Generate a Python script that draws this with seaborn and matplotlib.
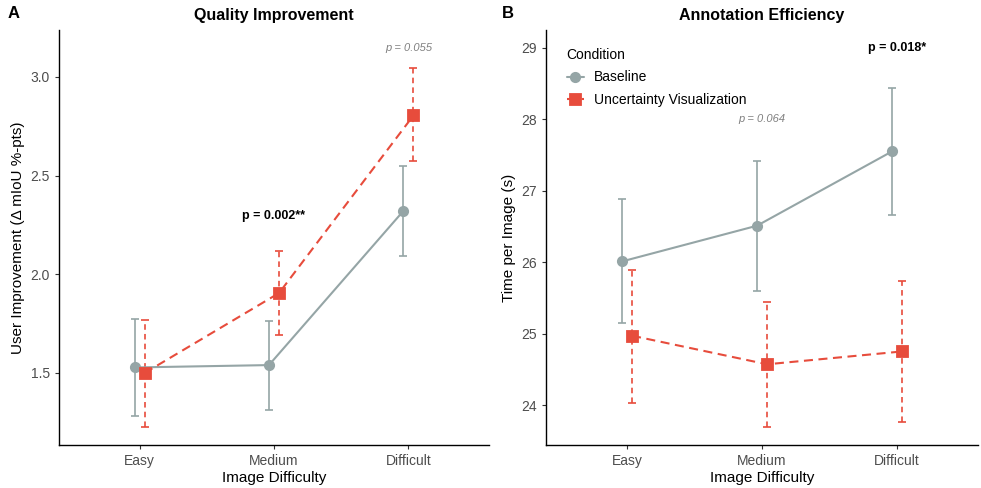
import numpy as np
import pandas as pd
import matplotlib
matplotlib.use("Agg")
import matplotlib.pyplot as plt
import seaborn as sns

difficulty = ["Easy", "Medium", "Difficult"]
conditions = ["Baseline", "Uncertainty Visualization"]

# Panel A: quality improvement
qa_base = [1.528, 1.540, 2.321]
qa_base_lo = [1.280, 1.310, 2.095]
qa_base_hi = [1.775, 1.765, 2.550]
qa_unc = [1.500, 1.905, 2.805]
qa_unc_lo = [1.226, 1.690, 2.575]
qa_unc_hi = [1.770, 2.120, 3.045]

# Panel B: annotation efficiency
tb_base = [26.01, 26.51, 27.55]
tb_base_lo = [25.15, 25.59, 26.66]
tb_base_hi = [26.89, 27.41, 28.44]
tb_unc = [24.97, 24.57, 24.75]
tb_unc_lo = [24.03, 23.69, 23.76]
tb_unc_hi = [25.89, 25.44, 25.73]

GRAY = "#95A5A6"
RED = "#E74C3C"

sns.set_theme(style="ticks")
plt.rcParams["font.family"] = ["Liberation Sans", "DejaVu Sans"]
plt.rcParams["lines.scale_dashes"] = False
plt.rcParams["text.color"] = "black"
plt.rcParams["axes.labelcolor"] = "black"

fig = plt.figure(figsize=(9.81, 4.88), dpi=100)
axA = fig.add_axes([0.0601, 0.0881, 0.4384, 0.8504])
axB = fig.add_axes([0.5566, 0.0881, 0.4404, 0.8504])

DODGE = 0.0375


def make_df(base, unc):
    return pd.DataFrame({
        "Difficulty": difficulty * 2,
        "Condition": [conditions[0]] * 3 + [conditions[1]] * 3,
        "Value": list(base) + list(unc),
    })


def draw(ax, base, blo, bhi, unc, ulo, uhi):
    df = make_df(base, unc)
    x = np.arange(len(difficulty))
    for vals, lo, hi, col, off, ls in [
        (base, blo, bhi, GRAY, -DODGE, "-"),
        (unc, ulo, uhi, RED, DODGE, "--"),
    ]:
        vals = np.array(vals)
        yerr = [vals - np.array(lo), np.array(hi) - vals]
        eb = ax.errorbar(x + off, vals, yerr=yerr, fmt="none", ecolor=col,
                         elinewidth=1.2, capsize=1.9, capthick=1.2, zorder=2)
        for c in eb[2]:
            if ls == "--":
                c.set_linestyle((0, (4, 3)))
    sns.pointplot(data=df, x="Difficulty", y="Value", hue="Condition",
                  order=difficulty, hue_order=conditions,
                  palette=[GRAY, RED], markers=["o", "s"],
                  linestyles=["-", "--"], dodge=2 * DODGE, errorbar=None,
                  ax=ax, zorder=3)
    for ln in ax.get_lines():
        ln.set_linewidth(1.5)
        if ln.get_marker() == "s":
            ln.set_markersize(6.5)
            ln.set_linestyle((0, (6.5, 4)))
        else:
            ln.set_markersize(6)
    ax.set_xlim(-0.6, 2.6)
    sns.despine(ax=ax)
    for sp in ["left", "bottom"]:
        ax.spines[sp].set_linewidth(1.0)
        ax.spines[sp].set_color("black")
    ax.tick_params(axis="both", colors="#333333", labelcolor="#4D4D4D",
                   labelsize=10, length=3, width=0.8, direction="out")
    ax.set_xlabel("Image Difficulty", fontsize=11, color="black", labelpad=2)


draw(axA, qa_base, qa_base_lo, qa_base_hi, qa_unc, qa_unc_lo, qa_unc_hi)
axA.set_ylim(1.135, 3.238)
axA.set_yticks([1.5, 2.0, 2.5, 3.0])
axA.set_yticklabels(["1.5", "2.0", "2.5", "3.0"])
axA.set_ylabel("User Improvement (\u0394 mIoU %-pts)", fontsize=11, color="black")
axA.set_title("Quality Improvement", fontsize=11.5, fontweight="bold", pad=7,
              color="black")
axA.get_legend().remove()
axA.text(2, 3.147, "p = 0.055", ha="center", va="center", fontsize=8,
         style="italic", color="#808080")
axA.text(1, 2.296, "p = 0.002**", ha="center", va="center", fontsize=9,
         fontweight="bold", color="black")

draw(axB, tb_base, tb_base_lo, tb_base_hi, tb_unc, tb_unc_lo, tb_unc_hi)
axB.set_ylim(23.44, 29.25)
axB.set_yticks([24, 25, 26, 27, 28, 29])
axB.set_ylabel("Time per Image (s)", fontsize=11, color="black")
axB.set_title("Annotation Efficiency", fontsize=11.5, fontweight="bold", pad=7,
              color="black")
axB.text(1, 28.0, "p = 0.064", ha="center", va="center", fontsize=8,
         style="italic", color="#808080")
axB.text(2, 29.0, "p = 0.018*", ha="center", va="center", fontsize=9,
         fontweight="bold", color="black")
leg = axB.legend(title="Condition", loc="upper left", bbox_to_anchor=(0.025, 0.98),
                 frameon=False, fontsize=10, title_fontsize=10,
                 handlelength=1.25, handletextpad=0.7, labelspacing=0.6,
                 borderaxespad=0.3)
leg._legend_box.align = "left"
for t in leg.get_texts():
    t.set_color("black")
leg.get_title().set_color("black")

fig.text(0.008, 0.988, "A", fontsize=12, fontweight="bold", va="top", color="black")
fig.text(0.512, 0.988, "B", fontsize=12, fontweight="bold", va="top", color="black")

fig.savefig("out.png", dpi=100)
